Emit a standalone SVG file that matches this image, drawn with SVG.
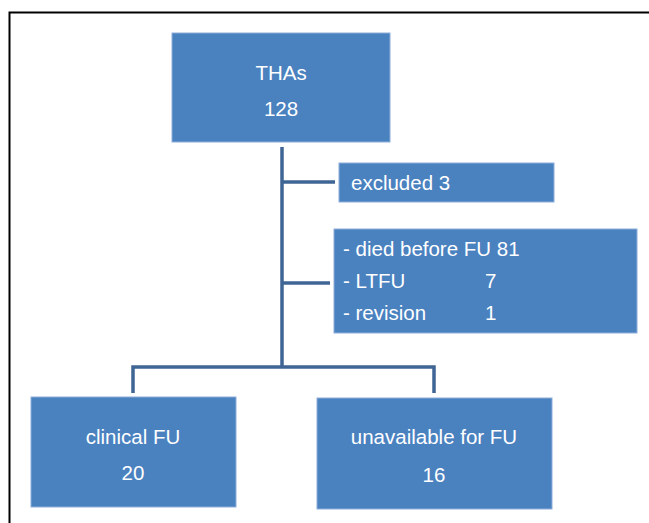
<svg xmlns="http://www.w3.org/2000/svg" width="649" height="523" viewBox="0 0 649 523">
<style>
.box{fill:#4a81bf;stroke:#8eaedb;stroke-width:1}
.t{font-family:"Liberation Sans","Open Sans",sans-serif;font-size:20.5px;fill:#ffffff}
.c{text-anchor:middle}
.ln{stroke:#3f6595;stroke-width:3.5;fill:none}
</style>
<rect x="0" y="0" width="649" height="523" fill="#ffffff"/>
<path d="M9.5 525 V12.5 H652" fill="none" stroke="#000" stroke-width="2"/>
<g id="connectors">
<path class="ln" d="M282 147 V367"/>
<path class="ln" d="M282 182 H335"/>
<path class="ln" d="M282 283 H330"/>
<path class="ln" d="M133 393 V367 H434 V393"/>
</g>
<g id="thas">
<rect class="box" x="172" y="33" width="218" height="109"/>
<text class="t c" x="281" y="80">THAs</text>
<text class="t c" x="281" y="116">128</text>
</g>
<g id="excluded">
<rect class="box" x="339" y="163" width="215" height="39"/>
<text class="t" x="351" y="190">excluded 3</text>
</g>
<g id="losses">
<rect class="box" x="334" y="229" width="303" height="104"/>
<text class="t" x="343" y="256">- died before FU 81</text>
<text class="t" x="343" y="288">- LTFU</text>
<text class="t" x="485" y="288">7</text>
<text class="t" x="343" y="320">- revision</text>
<text class="t" x="485" y="320">1</text>
</g>
<g id="clinical">
<rect class="box" x="31" y="397" width="205" height="110"/>
<text class="t c" x="133" y="444">clinical FU</text>
<text class="t c" x="133" y="480">20</text>
</g>
<g id="unavailable">
<rect class="box" x="317" y="398" width="235" height="111"/>
<text class="t c" x="434" y="444">unavailable for FU</text>
<text class="t c" x="434" y="482">16</text>
</g>
</svg>
